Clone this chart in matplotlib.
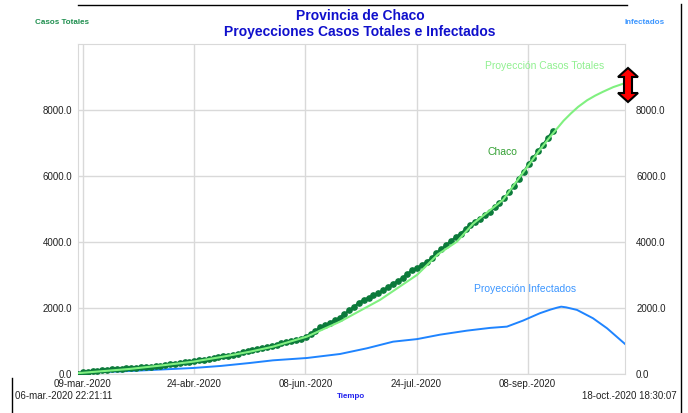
import matplotlib.pyplot as plt
from matplotlib.patches import Polygon
from matplotlib.lines import Line2D

plt.rcParams['font.family'] = ['Liberation Sans', 'DejaVu Sans']

# x values are days since the start of the run (06-mar.-2020 22:21:11)
t_end = 225.84

proy_total_dias = [0, 21.5, 34, 47.5, 59, 71, 80.5, 94.5, 108.2, 124.7, 140, 148.6, 156.5,
                   163.1, 175.5, 183.7, 190.7, 195, 198, 200.5, 203.5, 206.5, 210.2,
                   213.5, 216.8, 221, 225.8]
proy_total = [10, 140, 240, 359, 500, 663, 815, 1120, 1576, 2236, 2996, 3620, 4009,
              4548, 5278, 6099, 6798, 7200, 7460, 7680, 7900, 8100, 8300,
              8440, 8560, 8700, 8820]

chaco_dias = list(range(0, 198, 2))
chaco = [0, 35, 55, 70, 90, 105, 115, 125, 135, 150, 160, 170, 180, 190, 200, 210, 222,
         235, 255, 275, 295, 315, 335, 360, 385, 405, 425, 445, 470, 495, 520, 545, 575,
         605, 640, 680, 715, 745, 775, 805, 830, 870, 915, 950, 985, 1010, 1050, 1120,
         1200, 1300, 1400, 1470, 1540, 1620, 1690, 1800, 1920, 2030, 2150, 2240, 2300,
         2370, 2440, 2530, 2620, 2730, 2800, 2900, 3030, 3140, 3210, 3300, 3390, 3500,
         3670, 3780, 3900, 4030, 4140, 4250, 4380, 4520, 4610, 4700, 4800, 4920, 5050,
         5180, 5330, 5510, 5700, 5920, 6120, 6360, 6550, 6760, 6950, 7160, 7370]

infect_dias = [0, 9, 21.5, 34, 47.5, 59, 71, 80.5, 94.5, 108.2, 119.3, 130.1, 140, 149.5,
               160.6, 170.1, 177.1, 183.7, 190.7, 195, 197.8, 199.5, 201.5, 206, 212.6,
               218.4, 225.8]
infect = [0, 40, 76, 120, 167, 230, 320, 400, 471, 593, 766, 967, 1045, 1180,
          1302, 1385, 1424, 1606, 1831, 1940, 2000, 2030, 2010, 1932, 1679,
          1375, 900]

tick_dias = [2.06, 47.96, 93.86, 139.76, 185.66]
tick_labels = ['09-mar.-2020', '24-abr.-2020', '08-jun.-2020', '24-jul.-2020', '08-sep.-2020']
y_ticks = [0, 2000, 4000, 6000, 8000]

fig = plt.figure(figsize=(6.88, 4.13), dpi=100)
ax = fig.add_axes([78 / 688, 1 - 373.5 / 413, 547 / 688, 329.2 / 413])

ax.plot(infect_dias, infect, color='#1f84ff', lw=1.4, zorder=3)
ax.plot(chaco_dias, chaco, color='#0b7a3a', lw=1.6, marker='o', ms=3.8, zorder=4)
ax.plot(proy_total_dias, proy_total, color='#80f080', lw=1.5, zorder=5)

ax.set_xlim(0, t_end)
ax.set_ylim(0, 10000)
ax.set_xticks(tick_dias)
ax.set_xticklabels(tick_labels)
ax.set_yticks(y_ticks)
ax.set_yticklabels(['%.1f' % v for v in y_ticks])
ax.tick_params(length=0, labelsize=7, colors='#222222', pad=4)
ax.grid(True, color='#d9d9d9', lw=1)
for s in ax.spines.values():
    s.set_color('#d9d9d9')

ax2 = ax.twinx()
ax2.set_ylim(0, 10000)
ax2.set_yticks(y_ticks)
ax2.set_yticklabels(['%.1f' % v for v in y_ticks])
ax2.tick_params(length=0, labelsize=7, colors='#222222', pad=8)
for s in ax2.spines.values():
    s.set_visible(False)

# series labels inside the plot
ax.text(545 / 688, 1 - 66 / 413, 'Proyección Casos Totales', transform=fig.transFigure,
        color='#90f090', fontsize=7.5, ha='center', va='center')
ax.text(502 / 688, 1 - 152 / 413, 'Chaco', transform=fig.transFigure,
        color='#33a033', fontsize=7.5, ha='center', va='center')
ax.text(525 / 688, 1 - 289 / 413, 'Proyección Infectados', transform=fig.transFigure,
        color='#3c96ff', fontsize=7.5, ha='center', va='center')

# titles and axis captions
fig.text(360 / 688, 1 - 16 / 413, 'Provincia de Chaco', color='#1010cc',
         fontsize=10, fontweight='bold', ha='center', va='center')
fig.text(360 / 688, 1 - 32 / 413, 'Proyecciones Casos Totales e Infectados', color='#1010cc',
         fontsize=10, fontweight='bold', ha='center', va='center')
fig.text(35 / 688, 1 - 22 / 413, 'Casos Totales', color='#1f8f4f',
         fontsize=5.8, fontweight='bold', ha='left', va='center')
fig.text(665 / 688, 1 - 22 / 413, 'Infectados', color='#3c96ff',
         fontsize=5.8, fontweight='bold', ha='right', va='center')
fig.text(351 / 688, 1 - 396 / 413, 'Tiempo', color='#2222ee',
         fontsize=5.8, fontweight='bold', ha='center', va='center')
fig.text(15 / 688, 1 - 396 / 413, '06-mar.-2020 22:21:11', color='#222222',
         fontsize=7, ha='left', va='center')
fig.text(677 / 688, 1 - 396 / 413, '18-oct.-2020 18:30:07', color='#222222',
         fontsize=7, ha='right', va='center')

# frame lines
fig.add_artist(Line2D([78 / 688, 627 / 688], [1 - 4.5 / 413] * 2, color='black', lw=1))
fig.add_artist(Line2D([680.5 / 688] * 2, [1 - 4 / 413, 0], color='black', lw=1))
fig.add_artist(Line2D([12 / 688] * 2, [1 - 378 / 413, 0], color='black', lw=1))

# red double arrow
arrow_px = [(628, 68), (638, 77), (632, 77), (632, 93), (638, 93), (628, 102),
            (618, 93), (624, 93), (624, 77), (618, 77)]
fig.add_artist(Polygon([(x / 688, 1 - y / 413) for x, y in arrow_px], closed=True,
                       facecolor='red', edgecolor='black', lw=1.5,
                       transform=fig.transFigure, zorder=10))

fig.savefig('out.png', dpi=100)
